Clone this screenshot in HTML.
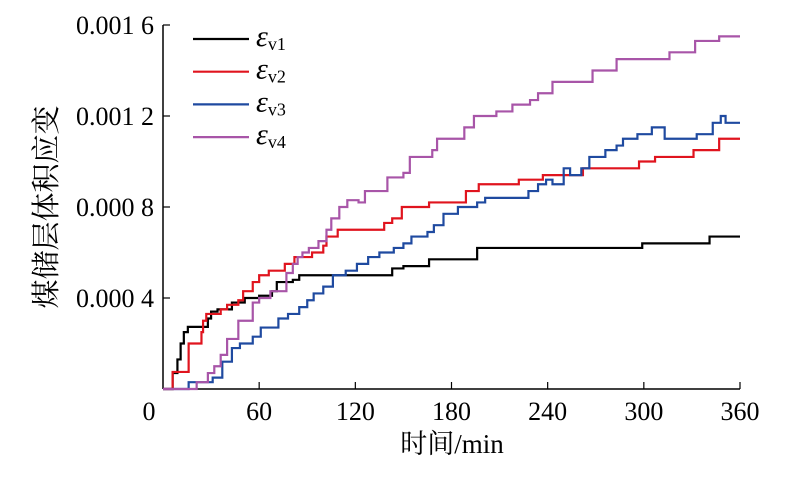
<!DOCTYPE html>
<html><head><meta charset="utf-8"><style>
body{margin:0;background:#fff;width:812px;height:484px;overflow:hidden}
svg text{font-family:"Liberation Serif","Noto Serif CJK SC",serif;fill:#000}
</style></head><body>
<svg id="chart" width="812" height="484">
<g id="axes"></g><g id="series"></g><g id="legend"></g>
</svg>
<script>
const xTicks=[0,60,120,180,240,300,360];
const yTicks=[0.0004,0.0008,0.0012,0.0016];
const yTickLabels=["0.000 4","0.000 8","0.001 2","0.001 6"];
const seriesNames=["v1","v2","v3","v4"];
const seriesColors=["#000000","#e0141e","#1f4aa0","#a855a8"];
const t1=[0,6,9,11,13,15.5,28,30,34,43,51,60,68,71,81,85,143,150,166,196,299,341,360];
const v1=[0,0.00007,0.00013,0.0002,0.00025,0.000273,0.00031,0.00034,0.00035,0.00038,0.0004,0.00041,0.00043,0.00047,0.00048,0.0005,0.00053,0.00054,0.00057,0.00062,0.00064,0.00067,0.00067];
const t2=[0,6,16,24,25,27,36,40,47,50,56,60,66,76,82,93,100,102,109,138,143,149,166,189,197,222,237,262,297,307,331,347,360];
const v2=[0,0.000075,0.0002,0.00025,0.0003,0.00033,0.00035,0.00037,0.00039,0.00043,0.00047,0.0005,0.00052,0.00055,0.00058,0.0006,0.00063,0.00067,0.0007,0.00073,0.00075,0.0008,0.00082,0.00087,0.0009,0.00092,0.00094,0.00097,0.001,0.00102,0.00105,0.0011,0.0011];
const t3=[0,16,31,37,43,48,56,61,72,78,85,90,94,100,106,114,121,128,135,144,150,155,165,169,175,184,196,201,228,234,239,243,250,254,261,266,276,283,287,296,305,313,333,343,348,351,360];
const v3=[0,0.00003,0.00005,0.00012,0.00018,0.0002,0.00023,0.00027,0.00031,0.00033,0.00036,0.00039,0.00042,0.00045,0.0005,0.00052,0.00055,0.00058,0.0006,0.00062,0.00064,0.00067,0.00069,0.00072,0.00077,0.0008,0.00082,0.00084,0.00087,0.0009,0.00092,0.0009,0.00097,0.00094,0.00097,0.00102,0.00105,0.00107,0.0011,0.00112,0.00115,0.0011,0.00112,0.00117,0.0012,0.00117,0.00117];
const t4=[0,21,28,32,36,40,47,56,60,67,77,81,84,87,91,97,102,105,110,115,122,126,140,150,154,168,171,188,194,208,218,229,234,243,268,283,316,332,347,360];
const v4=[0,0.00003,0.00007,0.0001,0.00015,0.00022,0.0003,0.00038,0.0004,0.00043,0.00051,0.00055,0.00058,0.0006,0.00062,0.00065,0.0007,0.00075,0.0008,0.00083,0.00082,0.00087,0.00093,0.00095,0.00102,0.00105,0.0011,0.00115,0.0012,0.00122,0.00125,0.00127,0.0013,0.00135,0.0014,0.00145,0.00148,0.00153,0.00155,0.00155];
const allT=[t1,t2,t3,t4], allV=[v1,v2,v3,v4];
const NS="http://www.w3.org/2000/svg";
const X0=163,X1=740,Y0=389,Y1=25;
const xs=t=>X0+t/360*(X1-X0);
const ys=v=>Y0-v/0.0016*(Y0-Y1);
function mk(tag,attrs,parent,txt){const e=document.createElementNS(NS,tag);for(const k in attrs)e.setAttribute(k,attrs[k]);if(txt!==undefined)e.textContent=txt;parent.appendChild(e);return e;}
const axes=document.getElementById('axes');
let a=mk('line',{x1:X0,y1:Y1,x2:X0,y2:Y0,stroke:'#000','stroke-width':1.5},axes);


a=mk('line',{x1:X0,y1:Y0,x2:X1,y2:Y0,stroke:'#000','stroke-width':1.5},axes);


xTicks.forEach((t,i)=>{
  if(i>0){const tk=mk('line',{x1:xs(t),y1:Y0,x2:xs(t),y2:Y0-7,stroke:'#000','stroke-width':1.2},axes);
  
  }
  const lb=mk('text',{x:i==0?149:xs(t),y:420,'font-size':26,'text-anchor':'middle'},axes,String(t));
  
  
});
yTicks.forEach((v,i)=>{
  const tk=mk('line',{x1:X0,y1:ys(v),x2:X0+7,y2:ys(v),stroke:'#000','stroke-width':1.2},axes);
  
  
  const lb=mk('text',{x:154,y:ys(v)+9,'font-size':26,'text-anchor':'end'},axes,yTickLabels[i]);
  
  
});
let tt=mk('text',{x:452,y:453,'font-size':27,'text-anchor':'middle'},axes,'时间/min');


tt=mk('text',{x:0,y:0,'font-size':29,'text-anchor':'middle',transform:'translate(56,207) rotate(-90)'},axes,'煤储层体积应变');


const sg=document.getElementById('series');
allT.forEach((ts,s)=>{
  const vs=allV[s];let d='M'+xs(ts[0])+','+ys(vs[0]);
  for(let i=1;i<ts.length;i++){d+=' H'+xs(ts[i])+' V'+ys(vs[i]);}
  const p=mk('path',{d:d,fill:'none',stroke:seriesColors[s],'stroke-width':2.2},sg);
  
  
});
const lg=document.getElementById('legend');
seriesNames.forEach((n,i)=>{
  const y=39+i*32.7;
  const l=mk('line',{x1:193,y1:y,x2:249,y2:y,stroke:seriesColors[i],'stroke-width':2.2},lg);
  
  
  const t=mk('text',{x:256,y:y+7,'font-size':30,'font-style':'italic'},lg,'ε');
  
  
  mk('tspan',{'font-size':18,'font-style':'normal',dy:4},t,n);
});
</script>
</body></html>
